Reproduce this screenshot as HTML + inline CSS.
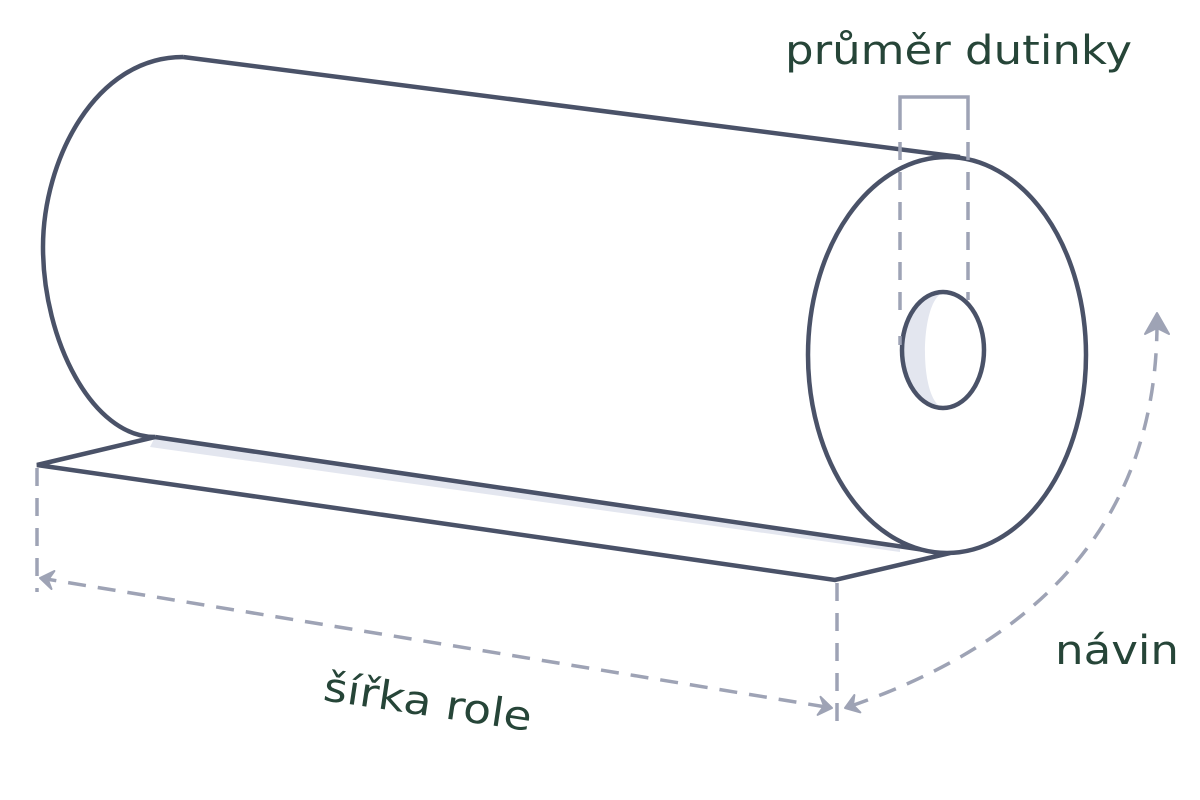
<!DOCTYPE html>
<html><head><meta charset="utf-8"><style>html,body{margin:0;padding:0;background:#fff}svg{display:block}</style></head>
<body>
<svg width="1200" height="800" viewBox="0 0 1200 800" xmlns="http://www.w3.org/2000/svg">
<rect width="1200" height="800" fill="#fff"/>
<!-- sheet shading -->
<path d="M155,437 L900,545 L900,552 L150,447 Z" fill="#e3e6ef"/>
<!-- sheet -->
<path d="M155,437 L37,465 L835,580 L950,553" fill="none" stroke="#4a5268" stroke-width="4.5" stroke-linejoin="miter"/>
<!-- cylinder body -->
<path d="M183,57 L960,157 M155,437 L945,553" fill="none" stroke="#4a5268" stroke-width="4.5"/>
<path d="M183,57 C95,57 43,160 43,247 C43,340 92,437 155,437" fill="none" stroke="#4a5268" stroke-width="4.5"/>
<!-- right end -->
<ellipse cx="947" cy="355" rx="139" ry="198" fill="#fff" stroke="#4a5268" stroke-width="4.5"/>
<!-- hole -->
<ellipse cx="943" cy="350" rx="41" ry="58" fill="#fff"/>
<path d="M943,293 C920,300 918,400 943,408 C915,408 903,380 903,350 C903,315 918,292 943,293 Z" fill="#e3e6ef"/>
<ellipse cx="943" cy="350" rx="41" ry="58" fill="none" stroke="#4a5268" stroke-width="4.5"/>
<!-- core bracket -->
<path d="M900,112 L900,97 L968,97 L968,112" fill="none" stroke="#9ea3b5" stroke-width="3.5"/>
<path d="M900,112 L900,320 M900,336 L900,345 M968,112 L968,300" fill="none" stroke="#9ea3b5" stroke-width="3.5" stroke-dasharray="18,12"/>
<!-- width dims -->
<path d="M37,468 L37,592" stroke="#9ea3b5" stroke-width="3.5" stroke-dasharray="18,12" fill="none"/>
<path d="M837,583 L837,722" stroke="#9ea3b5" stroke-width="3.5" stroke-dasharray="18,12" fill="none"/>
<path d="M826,707 L46,579" stroke="#9ea3b5" stroke-width="3.5" stroke-dasharray="18,12" fill="none"/>
<path d="M40,578 L51.5,589 L48,580 L54.4,571 Z" fill="#9ea3b5" stroke="#9ea3b5" stroke-width="2" stroke-linejoin="round"/>
<path d="M832,708 L820.5,696.8 L824,706 L817.6,714.9 Z" fill="#9ea3b5" stroke="#9ea3b5" stroke-width="2" stroke-linejoin="round"/>
<!-- winding arrow -->
<path d="M851,706 Q1155,600 1157,326" stroke="#9ea3b5" stroke-width="3.5" stroke-dasharray="18,12" fill="none"/>
<path d="M845,708 L860.4,712.4 L853,705 L854.4,695 Z" fill="#9ea3b5" stroke="#9ea3b5" stroke-width="2" stroke-linejoin="round"/>
<path d="M1157,313 L1145,334 L1157,328 L1169,334 Z" fill="#9ea3b5" stroke="#9ea3b5" stroke-width="2" stroke-linejoin="round"/>
<!-- labels -->
<g font-family="'DejaVu Sans','Liberation Sans',sans-serif" fill="#264538" font-size="40">
<text x="785" y="64" textLength="347" lengthAdjust="spacingAndGlyphs">průměr dutinky</text>
<text x="1055" y="664" textLength="124" lengthAdjust="spacingAndGlyphs">návin</text>
<text x="0" y="0" transform="translate(322,700) rotate(8.5)" textLength="210" lengthAdjust="spacingAndGlyphs">šířka role</text>
</g>
</svg>
</body></html>
